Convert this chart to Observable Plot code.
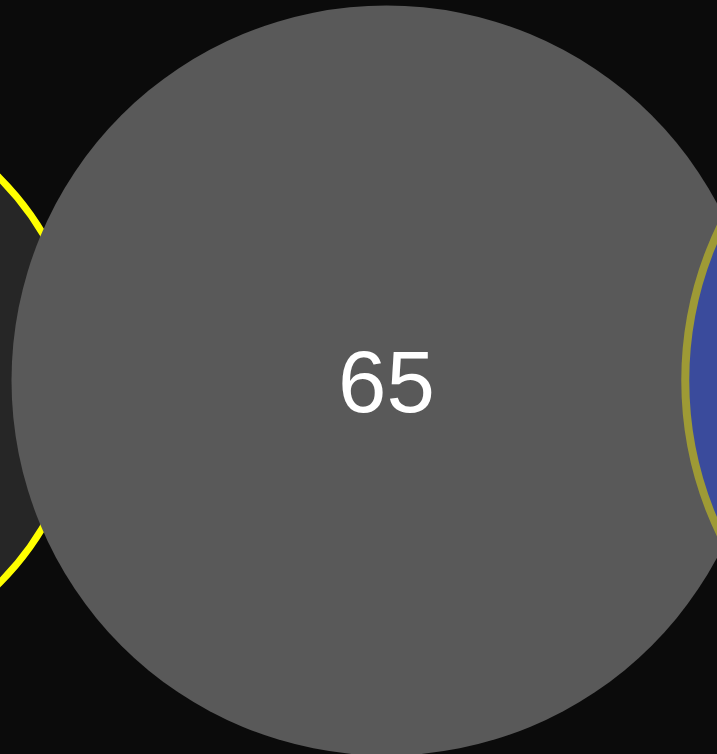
<!DOCTYPE html>
<html>
<head>
<meta charset="utf-8">
<script src="https://cdn.jsdelivr.net/npm/d3@7"></script>
<script src="https://cdn.jsdelivr.net/npm/@observablehq/plot@0.6"></script>
<style>
  html, body { margin: 0; padding: 0; background: #0b0b0b; overflow: hidden; }
  #chart { width: 717px; height: 754px; }
</style>
</head>
<body>
<div id="chart"></div>
<script>
// Bubbles (drawing order: left, centre, right)
const names   = ["left", "centre", "right"];
const values  = [38, 65, 58];
const posX    = [-204, 386, 1039];
const posY    = [380, 380, 380];
const fills   = ["#262626", "#595959", "#3a4b9c"];
const strokes = ["#ffff00", "none", "#9e9a35"];
const strokeW = [7, 0, 8];
const labels  = ["", "65", ""];

const data = names.map((n, i) => ({
  name: n, value: values[i], x: posX[i], y: posY[i],
  fill: fills[i], stroke: strokes[i], sw: strokeW[i], label: labels[i]
}));

const chart = Plot.plot({
  width: 717,
  height: 754,
  margin: 0,
  style: { background: "#0b0b0b", overflow: "hidden" },
  x: { domain: [0, 717], range: [0, 717], axis: null },
  y: { domain: [0, 754], range: [0, 754], axis: null },
  r: { type: "sqrt", domain: [0, 65], range: [0, 375] },
  marks: [
    ...data.map(d => Plot.dot([d], {
      x: "x", y: "y", r: "value",
      fill: d.fill,
      stroke: d.stroke,
      strokeWidth: d.sw
    })),
    Plot.text(data.filter(d => d.label), {
      x: "x", y: "y", dy: 4, text: "label",
      fill: "#ffffff",
      fontSize: 87,
      fontFamily: "Liberation Sans, Arial, sans-serif"
    })
  ]
});
document.getElementById("chart").appendChild(chart);
</script>
</body>
</html>
